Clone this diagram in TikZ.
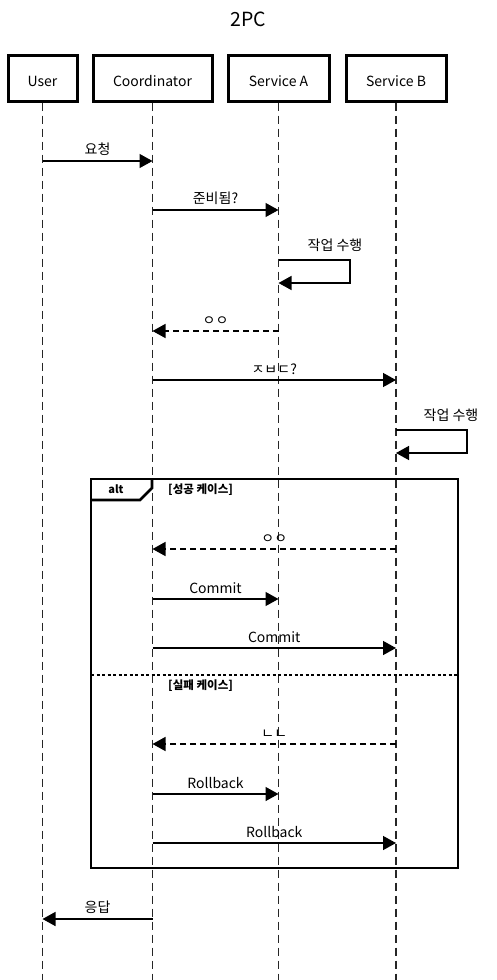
\documentclass[tikz,border=0pt]{standalone}
\usepackage{fontspec}
\setmainfont{Noto Sans CJK KR}
\usetikzlibrary{arrows.meta}
\begin{document}
\begin{tikzpicture}[x=1pt,y=-1pt,
  actor/.style={draw,line width=3pt,minimum height=46pt,inner sep=0pt},
  actorname/.style={font=\fontsize{14}{16}\selectfont,yshift=-3pt},
  lifeline/.style={line width=1.6pt,draw=black!85,dash pattern=on 8pt off 5pt},
  msg/.style={line width=1.4pt,-{Triangle[length=13pt,width=14pt]}},
  reply/.style={msg,dash pattern=on 6pt off 4pt},
  lbl/.style={font=\fontsize{14}{16}\selectfont,inner sep=1pt},
  guard/.style={font=\bfseries\fontsize{11.5}{13}\selectfont,inner sep=0pt,anchor=west},
  frame/.style={line width=2.6pt}]
\useasboundingbox (0,0) rectangle (497,980);
\node[font=\fontsize{19.5}{22}\selectfont] (title) at (248,19) {2PC};
% participants
\node[actor,minimum width=69pt,label={[actorname]center:User}] (user) at (42.5,78) {};
\node[actor,minimum width=119pt,label={[actorname]center:Coordinator}] (coord) at (152.5,78) {};
\node[actor,minimum width=101pt,label={[actorname]center:Service A}] (svca) at (278.5,78) {};
\node[actor,minimum width=100pt,label={[actorname]center:Service B}] (svcb) at (396,78) {};
% lifelines
\foreach \p in {user,coord,svca,svcb} {
  \coordinate (\p-end) at (\p.south |- 0,980);
  \draw[lifeline] (\p.south) -- (\p-end);
}
% message anchor points on the lifelines
\coordinate (u1) at (user.south |- 0,161);
\coordinate (c1) at (coord.south |- 0,161);
\coordinate (c2) at (coord.south |- 0,210);
\coordinate (a2) at (svca.south |- 0,210);
\coordinate (a3) at (svca.south |- 0,260);
\coordinate (a3r) at (350,260);
\coordinate (a3b) at (350,283);
\coordinate (a3e) at (svca.south |- 0,283);
\coordinate (a4) at (svca.south |- 0,331);
\coordinate (c4) at (coord.south |- 0,331);
\coordinate (c5) at (coord.south |- 0,380);
\coordinate (b5) at (svcb.south |- 0,380);
\coordinate (b6) at (svcb.south |- 0,430);
\coordinate (b6r) at (467,430);
\coordinate (b6b) at (467,453);
\coordinate (b6e) at (svcb.south |- 0,453);
\coordinate (b7) at (svcb.south |- 0,549);
\coordinate (c7) at (coord.south |- 0,549);
\coordinate (c8) at (coord.south |- 0,599);
\coordinate (a8) at (svca.south |- 0,599);
\coordinate (c9) at (coord.south |- 0,648);
\coordinate (b9) at (svcb.south |- 0,648);
\coordinate (b10) at (svcb.south |- 0,744);
\coordinate (c10) at (coord.south |- 0,744);
\coordinate (c11) at (coord.south |- 0,794);
\coordinate (a11) at (svca.south |- 0,794);
\coordinate (c12) at (coord.south |- 0,843);
\coordinate (b12) at (svcb.south |- 0,843);
\coordinate (c13) at (coord.south |- 0,919);
\coordinate (u13) at (user.south |- 0,919);
% messages
\draw[msg] (u1) -- node[lbl,above=4pt] {요청} (c1);
\draw[msg] (c2) -- node[lbl,above=4pt] {준비됨?} (a2);
\draw[msg] (a3) -- (a3r) -- (a3b) -- (a3e);
\node[lbl] (a3l) at (335,245) {작업 수행};
\draw[reply] (a4) -- node[lbl,above=4pt] {ㅇㅇ} (c4);
\draw[msg] (c5) -- node[lbl,above=4pt] {ㅈㅂㄷ?} (b5);
\draw[msg] (b6) -- (b6r) -- (b6b) -- (b6e);
\node[lbl] (b6l) at (451,415) {작업 수행};
% alt frame
\coordinate (fnw) at (91,479);
\coordinate (fse) at (458,868);
\draw[frame] (fnw) rectangle (fse);
\draw[frame] (91,500) coordinate (tabb) -- (140,500) coordinate (tabc) -- (152,488) coordinate (tabd) -- (152,479) coordinate (tabe);
\node[font=\bfseries\fontsize{11}{12}\selectfont] (altl) at (116,489) {alt};
\node[guard] (g1) at (168,489.5) {[성공 케이스]};
\draw[line width=2.2pt,dash pattern=on 3pt off 2.5pt] (91,675) coordinate (dl) -- (458,675) coordinate (dr);
\node[guard] (g2) at (168,686) {[실패 케이스]};
\draw[reply] (b7) -- node[lbl,above=4pt] {ㅇㅇ} (c7);
\draw[msg] (c8) -- node[lbl,above=4pt] {Commit} (a8);
\draw[msg] (c9) -- node[lbl,above=4pt] {Commit} (b9);
\draw[reply] (b10) -- node[lbl,above=4pt] {ㄴㄴ} (c10);
\draw[msg] (c11) -- node[lbl,above=4pt] {Rollback} (a11);
\draw[msg] (c12) -- node[lbl,above=4pt] {Rollback} (b12);
\draw[msg] (c13) -- node[lbl,above=4pt] {응답} (u13);
\end{tikzpicture}
\end{document}
